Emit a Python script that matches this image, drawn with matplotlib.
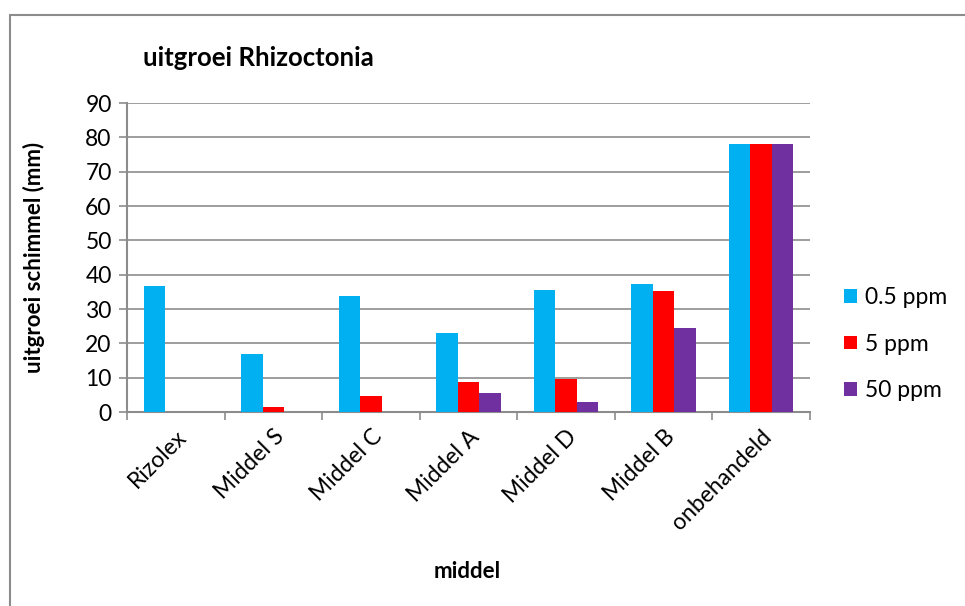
import matplotlib.pyplot as plt
import numpy as np
from matplotlib.patches import Rectangle

# data
middelen = ['Rizolex', 'Middel S', 'Middel C', 'Middel A', 'Middel D', 'Middel B', 'onbehandeld']
ppm_05 = [36.6, 17.0, 33.8, 22.9, 35.6, 37.4, 78.2]
ppm_5 = [0, 1.4, 4.7, 8.8, 9.6, 35.3, 78.2]
ppm_50 = [0, 0, 0, 5.7, 2.8, 24.4, 78.2]
series_labels = ['0.5 ppm', '5 ppm', '50 ppm']
colors = ['#00B0F0', '#FF0000', '#7030A0']

plt.rcParams['font.family'] = ['Lato', 'DejaVu Sans']

fig = plt.figure(figsize=(9.65, 6.06), dpi=100)
ax = fig.add_axes([0.1316, 0.320, 0.7077, 0.510])

x = np.arange(len(middelen))
w = 0.22
for i, (vals, lab, col) in enumerate(zip([ppm_05, ppm_5, ppm_50], series_labels, colors)):
    ax.bar(x + (i - 1) * w, vals, width=w, color=col, label=lab, zorder=3)

ax.set_xlim(-0.5, len(middelen) - 0.5)
ax.set_ylim(0, 90)
ax.set_yticks(range(0, 91, 10))
ax.yaxis.grid(True, color='#8c8c8c', linewidth=1.2, zorder=0)

# category ticks sit between the groups, labels at the centres
ax.set_xticks(np.arange(-0.5, len(middelen), 1))
ax.set_xticklabels([])
ax.set_xticks(x, minor=True)
ax.set_xticklabels(middelen, minor=True, rotation=45, ha='right', rotation_mode='anchor', fontsize=16.5)
ax.tick_params(axis='x', which='minor', length=0, pad=10)
ax.tick_params(axis='x', which='major', length=6, color='#8c8c8c', width=1.2)
ax.tick_params(axis='y', labelsize=16.5, length=6, color='#8c8c8c', width=1.2, pad=5)

for s in ['top', 'right']:
    ax.spines[s].set_visible(False)
for s in ['left', 'bottom']:
    ax.spines[s].set_color('#8c8c8c')
    ax.spines[s].set_linewidth(1.5)

ax.set_ylabel('uitgroei schimmel (mm)', fontsize=16, fontweight='bold')
ax.yaxis.set_label_coords(-0.12, 0.5)
fig.text(0.484, 0.057, 'middel', fontsize=16, fontweight='bold', ha='center', va='center')
fig.text(0.148, 0.905, 'uitgroei Rhizoctonia', fontsize=18.5, fontweight='bold', ha='left', va='center')

ax.legend(loc='center left', bbox_to_anchor=(1.02, 0.22), frameon=False, fontsize=16.5,
          handlelength=0.55, handleheight=0.55, handletextpad=0.35, labelspacing=1.1)

# outer chart border
fig.patches.append(Rectangle((10 / 965, -0.1), 1.2, (606 - 15) / 606 + 0.1, transform=fig.transFigure,
                             fill=False, edgecolor='#8c8c8c', linewidth=1.5))

fig.savefig('out.png', dpi=100)
